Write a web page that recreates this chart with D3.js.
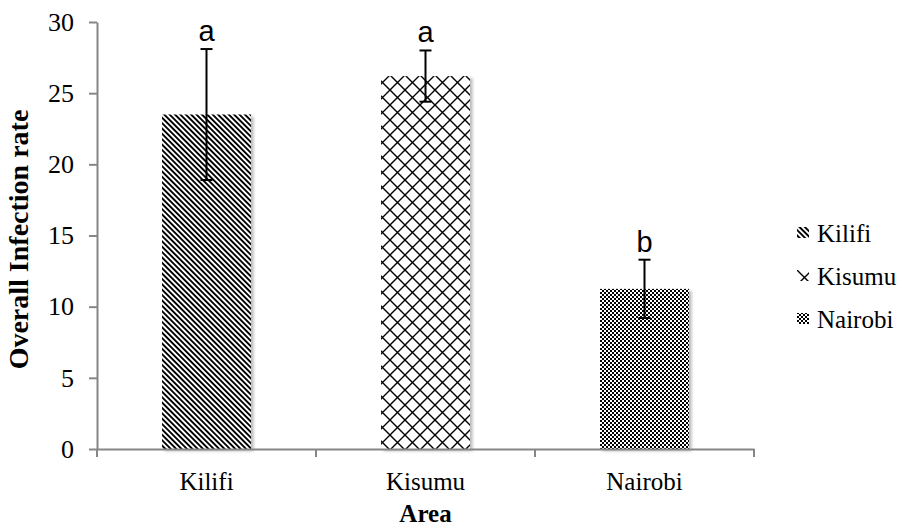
<!DOCTYPE html>
<html>
<head>
<meta charset="utf-8">
<script src="https://cdn.jsdelivr.net/npm/d3@7"></script>
<style>
  html, body { margin: 0; padding: 0; background: #fff; }
  svg { display: block; }
</style>
</head>
<body>
<svg id="chart" width="906" height="530"></svg>
<script>
// Overall infection rate by area, with standard-error bars and group letters
const areas = ["Kilifi", "Kisumu", "Nairobi"];
const rates = [23.5, 26.2, 11.25];
const errors = [4.6, 1.8, 2.05];
const groupLetters = ["a", "a", "b"];
const yTicks = [0, 5, 10, 15, 20, 25, 30];
const patternIds = ["pat-kilifi", "pat-kisumu", "pat-nairobi"];

const svg = d3.select("#chart");
const serif = "'Liberation Serif', 'Times New Roman', serif";
const sans = "'Liberation Sans', Arial, sans-serif";
const axisColor = "#868686";

const plot = { left: 97, right: 754, top: 22, bottom: 449 };

const x = d3.scaleBand()
  .domain(areas)
  .range([plot.left, plot.right])
  .paddingInner(0.594)
  .paddingOuter(0.297);

const y = d3.scaleLinear()
  .domain([0, 30])
  .range([plot.bottom, plot.top]);

// ---- fill patterns ----
const defs = svg.append("defs");

// wide downward diagonal stripes
const p1 = defs.append("pattern")
  .attr("id", patternIds[0])
  .attr("patternUnits", "userSpaceOnUse")
  .attr("width", 3.8).attr("height", 10)
  .attr("patternTransform", "rotate(-45)");
p1.append("rect").attr("width", 3.8).attr("height", 10).attr("fill", "#fff");
p1.append("rect").attr("width", 1.9).attr("height", 10).attr("fill", "#000");

// diagonal lattice
const cw = 15;
const p2 = defs.append("pattern")
  .attr("id", patternIds[1])
  .attr("patternUnits", "userSpaceOnUse")
  .attr("x", 0).attr("y", 0)
  .attr("width", cw).attr("height", cw);
p2.append("rect").attr("width", cw).attr("height", cw).attr("fill", "#fff");
p2.append("path")
  .attr("d", `M0,0L${cw},${cw}M${cw},0L0,${cw}`)
  .attr("stroke", "#000").attr("stroke-width", 1.4).attr("fill", "none");

// small checkerboard
const p3 = defs.append("pattern")
  .attr("id", patternIds[2])
  .attr("patternUnits", "userSpaceOnUse")
  .attr("width", 4).attr("height", 4);
p3.append("rect").attr("width", 4).attr("height", 4).attr("fill", "#fff");
p3.append("rect").attr("width", 2).attr("height", 2).attr("fill", "#000");
p3.append("rect").attr("x", 2).attr("y", 2).attr("width", 2).attr("height", 2).attr("fill", "#000");

// soft shadow behind the bars
const shadow = defs.append("filter").attr("id", "bar-shadow")
  .attr("x", "-10%").attr("y", "-10%").attr("width", "130%").attr("height", "130%");
shadow.append("feDropShadow")
  .attr("dx", 2.5).attr("dy", 2).attr("stdDeviation", 1.6)
  .attr("flood-color", "#000").attr("flood-opacity", 0.28);

// ---- bars ----
svg.append("g").selectAll("rect")
  .data(areas)
  .join("rect")
  .attr("x", d => x(d))
  .attr("y", (d, i) => y(rates[i]))
  .attr("width", x.bandwidth())
  .attr("height", (d, i) => y(0) - y(rates[i]))
  .attr("fill", (d, i) => `url(#${patternIds[i]})`)
  .attr("filter", "url(#bar-shadow)");

// ---- axes ----
const yAxis = svg.append("g")
  .attr("transform", `translate(${plot.left},0)`)
  .call(d3.axisLeft(y).tickValues(yTicks).tickSize(8).tickPadding(15).tickSizeOuter(0));
yAxis.select(".domain").attr("stroke", axisColor).attr("stroke-width", 2);
yAxis.selectAll(".tick line").attr("stroke", axisColor).attr("stroke-width", 2);
yAxis.selectAll(".tick text")
  .style("font-family", serif).style("font-size", "26px").attr("fill", "#000");

const xAxis = svg.append("g")
  .attr("transform", `translate(0,${plot.bottom})`)
  .call(d3.axisBottom(x).tickSize(0).tickPadding(23).tickSizeOuter(0));
xAxis.select(".domain").attr("stroke", axisColor).attr("stroke-width", 2);
xAxis.selectAll(".tick text")
  .style("font-family", serif).style("font-size", "25px").attr("fill", "#000");

// category boundary ticks
const boundaries = d3.range(areas.length + 1).map(i => x.range()[0] + i * x.step());
xAxis.selectAll(".boundary")
  .data(boundaries)
  .join("line")
  .attr("class", "boundary")
  .attr("x1", d => d).attr("x2", d => d)
  .attr("y1", 0).attr("y2", 8)
  .attr("stroke", axisColor).attr("stroke-width", 2);

// ---- error bars ----
const eb = svg.append("g").attr("stroke", "#000").attr("stroke-width", 2);
const cx = d => x(d) + x.bandwidth() / 2;
eb.selectAll(".stem").data(areas).join("line")
  .attr("x1", cx).attr("x2", cx)
  .attr("y1", (d, i) => y(rates[i] - errors[i]))
  .attr("y2", (d, i) => y(rates[i] + errors[i]));
eb.selectAll(".cap-hi").data(areas).join("line")
  .attr("x1", d => cx(d) - 6).attr("x2", d => cx(d) + 6)
  .attr("y1", (d, i) => y(rates[i] + errors[i]))
  .attr("y2", (d, i) => y(rates[i] + errors[i]));
eb.selectAll(".cap-lo").data(areas).join("line")
  .attr("x1", d => cx(d) - 6).attr("x2", d => cx(d) + 6)
  .attr("y1", (d, i) => y(rates[i] - errors[i]))
  .attr("y2", (d, i) => y(rates[i] - errors[i]));

// ---- significance letters ----
svg.append("g").selectAll("text")
  .data(areas)
  .join("text")
  .attr("x", cx)
  .attr("y", (d, i) => y(rates[i] + errors[i]) - 8)
  .attr("text-anchor", "middle")
  .style("font-family", sans).style("font-size", "29px")
  .text((d, i) => groupLetters[i]);

// ---- axis titles ----
svg.append("text")
  .attr("transform", `translate(28,${(plot.top + plot.bottom) / 2 + 4}) rotate(-90)`)
  .attr("text-anchor", "middle")
  .style("font-family", serif).style("font-size", "28px").style("font-weight", "bold")
  .text("Overall Infection rate");

svg.append("text")
  .attr("x", (plot.left + plot.right) / 2)
  .attr("y", 522)
  .attr("text-anchor", "middle")
  .style("font-family", serif).style("font-size", "25px").style("font-weight", "bold")
  .text("Area");

// ---- legend ----
const legend = svg.append("g").selectAll("g")
  .data(areas)
  .join("g")
  .attr("transform", (d, i) => `translate(797,${242 + i * 43})`);
legend.append("rect")
  .attr("x", 0).attr("y", -15)
  .attr("width", 12).attr("height", 11)
  .attr("fill", (d, i) => `url(#${patternIds[i]})`);
legend.append("text")
  .attr("x", 20).attr("y", 0)
  .style("font-family", serif).style("font-size", "25px")
  .text(d => d);
</script>
</body>
</html>
